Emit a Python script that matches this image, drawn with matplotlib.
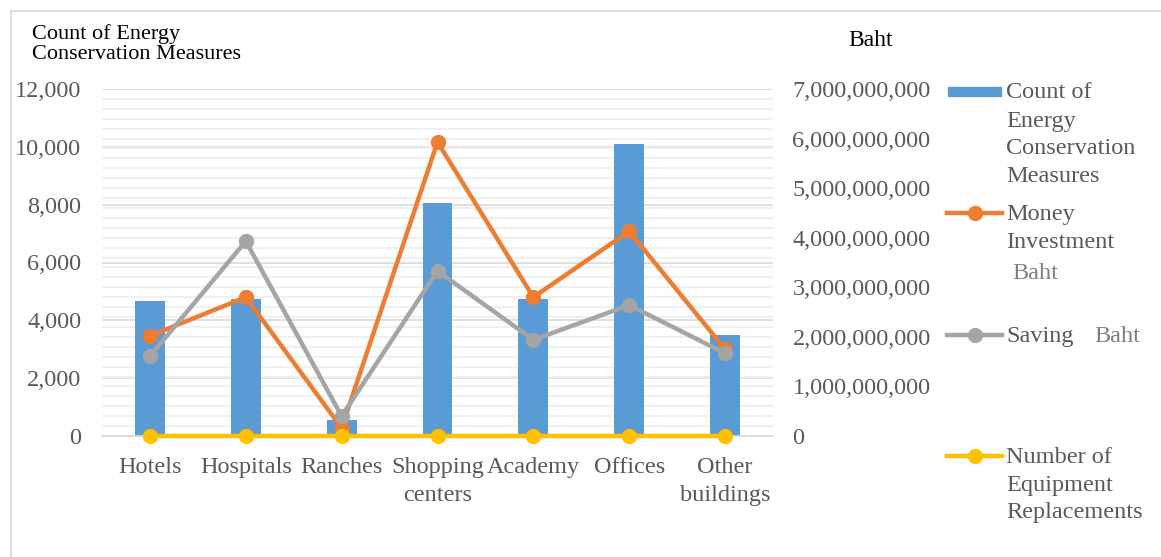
import matplotlib
matplotlib.use("Agg")
import matplotlib.pyplot as plt
from matplotlib.ticker import MultipleLocator, FuncFormatter
from matplotlib.lines import Line2D
from matplotlib.patches import Rectangle

plt.rcParams['font.family'] = ['Liberation Serif', 'DejaVu Serif']

categories = ["Hotels", "Hospitals", "Ranches", "Shopping\ncenters", "Academy", "Offices", "Other\nbuildings"]
count_measures = [4680, 4740, 560, 8070, 4740, 10100, 3500]
money_investment = [2.02e9, 2.80e9, 0.16e9, 5.93e9, 2.80e9, 4.13e9, 1.75e9]
saving = [1.61e9, 3.93e9, 0.40e9, 3.33e9, 1.94e9, 2.64e9, 1.67e9]
equipment_repl = [0, 0, 0, 0, 0, 0, 0]

W, H = 1161, 557
fig = plt.figure(figsize=(W / 100, H / 100), dpi=100)

def fx(px):
    return px / W

def fy(py):
    return 1 - py / H

# outer frame (only top and left edges visible)
fig.lines.append(Line2D([fx(11), fx(1161)], [fy(11), fy(11)], transform=fig.transFigure,
                        color="#d9d9d9", lw=1.3))
fig.lines.append(Line2D([fx(11), fx(11)], [fy(11), fy(557)], transform=fig.transFigure,
                        color="#d9d9d9", lw=1.3))

ax = fig.add_axes([fx(102), fy(436), fx(773 - 102), (436 - 89) / H])
ax2 = ax.twinx()

blue = "#5B9BD5"
orange = "#ED7D31"
grey = "#A5A5A5"
yellow = "#FFC000"
tick_col = "#595959"
FS = 17.5

x = list(range(len(categories)))
ax.bar(x, count_measures, width=0.31, color=blue, zorder=2)

ax.set_xlim(-0.5, len(categories) - 0.5)
ax.set_ylim(0, 12000)
ax.yaxis.set_major_locator(MultipleLocator(2000))
ax.yaxis.set_minor_locator(MultipleLocator(12000 / 35))
ax.yaxis.set_major_formatter(FuncFormatter(lambda v, p: f"{int(v):,}"))
ax.set_axisbelow(True)
ax.grid(axis="y", which="minor", color="#f0f0f0", linewidth=1.6)
ax.grid(axis="y", which="major", color="#d9d9d9", linewidth=1.2)
for s in ["left", "right", "top"]:
    ax.spines[s].set_visible(False)
ax.spines["bottom"].set_color("#d9d9d9")
ax.spines["bottom"].set_linewidth(1.2)
ax.tick_params(axis="y", which="both", length=0, labelsize=FS, labelcolor=tick_col, pad=15)
ax.tick_params(axis="x", length=0, labelsize=FS, labelcolor=tick_col, pad=15)
ax.set_xticks(x)
ax.set_xticklabels(categories, linespacing=1.45)

lw = 3.2
ms = 10
ax2.plot(x, money_investment, color=orange, lw=lw, marker="o", ms=ms, zorder=3)
ax2.plot(x, saving, color=grey, lw=lw, marker="o", ms=ms, zorder=4)
ax2.plot(x, equipment_repl, color=yellow, lw=lw, marker="o", ms=ms, zorder=5, clip_on=False)
ax2.set_ylim(0, 7e9)
ax2.yaxis.set_major_locator(MultipleLocator(1e9))
ax2.yaxis.set_major_formatter(FuncFormatter(lambda v, p: f"{int(round(v)):,}"))
for s in ["left", "right", "top", "bottom"]:
    ax2.spines[s].set_visible(False)
ax2.tick_params(axis="y", length=0, labelsize=FS, labelcolor=tick_col, pad=14)

# axis titles
fig.text(fx(32), fy(24), "Count of Energy\nConservation Measures", fontsize=16,
         color="black", ha="left", va="top", linespacing=1.1)
fig.text(fx(848), fy(41), "Baht", fontsize=17, color="black", ha="left", va="center")

# legend (manual)
def legend_line(text, ycenter, xpos=1006, color=tick_col):
    fig.text(fx(xpos), fy(ycenter + 7), text, fontsize=FS, color=color,
             ha="left", va="baseline")

def handle_line(y, color):
    fig.lines.append(Line2D([fx(947), fx(1002)], [fy(y), fy(y)], transform=fig.transFigure,
                            color=color, lw=lw))
    fig.lines.append(Line2D([fx(974.5)], [fy(y)], transform=fig.transFigure,
                            color=color, marker="o", ms=ms, lw=0))

fig.patches.append(Rectangle((fx(948), fy(96)), fx(1001 - 948), 9 / H,
                             transform=fig.transFigure, color=blue))
for t, yc in zip(["Count of", "Energy", "Conservation", "Measures"], [91, 120, 147, 175]):
    legend_line(t, yc)

handle_line(213, orange)
legend_line("Money", 213)
legend_line("Investment", 241)
legend_line("Baht", 272, xpos=1012, color="#808080")

handle_line(335, grey)
legend_line("Saving", 335)
legend_line("Baht", 335, xpos=1094, color="#808080")

handle_line(456, yellow)
for t, yc in zip(["Number of", "Equipment", "Replacements"], [456, 484, 511]):
    legend_line(t, yc)

fig.savefig("out.png", dpi=100)
